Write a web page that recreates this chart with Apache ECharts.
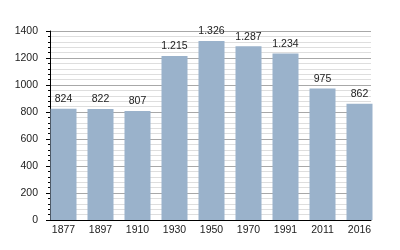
<!DOCTYPE html>
<html><head><meta charset="utf-8">
<script src="https://cdn.jsdelivr.net/npm/echarts@6/dist/echarts.min.js"></script>
<style>html,body{margin:0;padding:0;background:#fff}#c{width:400px;height:250px}</style>
</head><body><div id="c"></div>
<script>
var years = ['1877','1897','1910','1930','1950','1970','1991','2011','2016'];
var population = [824, 822, 807, 1215, 1326, 1287, 1234, 975, 862];
var yTicks = [0, 200, 400, 600, 800, 1000, 1200, 1400];

function fmt(v){ var s = String(v); return s.length > 3 ? s.slice(0, s.length-3) + '.' + s.slice(-3) : s; }
var font = 'Liberation Sans, Arial, sans-serif';
var chart = echarts.init(document.getElementById('c'), null, {renderer:'canvas'});
chart.setOption({
  animation: false,
  grid: [
    {left: 50, right: 29, top: 31, bottom: 30},
    {left: 45, right: 22, top: 31, bottom: 30}
  ],
  xAxis: [
    {type:'value', gridIndex:0, min:0, max:1, z:10, axisLine:{show:true, lineStyle:{color:'#000', width:1}}, axisTick:{show:false}, axisLabel:{show:false}, splitLine:{show:false}},
    {type:'category', gridIndex:1, data: years, axisLine:{show:false}, axisTick:{show:false},
     axisLabel:{color:'#222', fontSize:10.5, fontFamily:font, margin:5}}
  ],
  yAxis: [
    {type:'value', gridIndex:0, min: yTicks[0], max: yTicks[yTicks.length-1], interval: 200,
     axisLine:{show:true, lineStyle:{color:'#000'}},
     axisTick:{show:true, length:4, lineStyle:{color:'#000'}},
     minorTick:{show:true, splitNumber:5, length:2, lineStyle:{color:'#000'}},
     splitLine:{show:true, lineStyle:{color:'#a8a8a8'}},
     minorSplitLine:{show:true, lineStyle:{color:'#dedede'}},
     axisLabel:{color:'#222', fontSize:10.5, fontFamily:font, margin:12, formatter: function(v){ return String(v); }}},
    {type:'value', gridIndex:1, min: yTicks[0], max: yTicks[yTicks.length-1], show:false}
  ],
  series: [{
    type:'bar', xAxisIndex:1, yAxisIndex:1, data: population, barWidth: 26,
    itemStyle:{color:'#9ab2cb'},
    label:{show:true, position:'top', distance:4, color:'#222', fontSize:10.5, fontFamily:font,
      formatter: function(p){ return fmt(p.value); }}
  }]
});
</script></body></html>
